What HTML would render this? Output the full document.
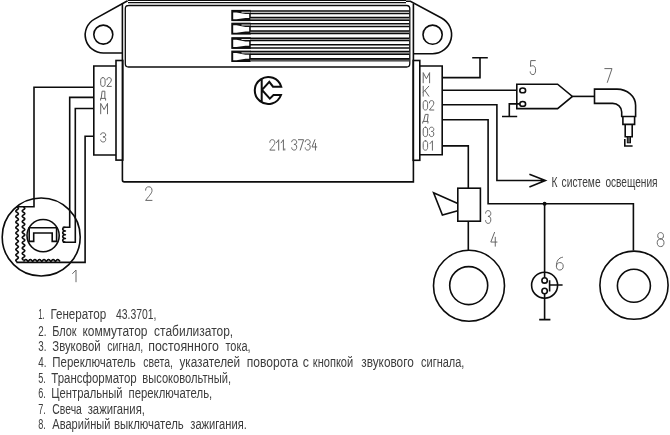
<!DOCTYPE html>
<html lang="ru"><head><meta charset="utf-8"><title>Схема 211.3734</title>
<style>
html,body{margin:0;padding:0;background:#fff;}
body{width:670px;height:435px;overflow:hidden;font-family:"Liberation Sans",sans-serif;}
svg{display:block;}
</style></head><body>
<svg width="670" height="435" viewBox="0 0 670 435">
<defs><filter id="gs" x="0" y="0" width="100%" height="100%" filterUnits="userSpaceOnUse" color-interpolation-filters="sRGB"><feColorMatrix type="saturate" values="0"/><feGaussianBlur stdDeviation="0.35"/></filter><filter id="soft" x="0" y="0" width="670" height="435" filterUnits="userSpaceOnUse" color-interpolation-filters="sRGB"><feGaussianBlur stdDeviation="0.4"/></filter></defs>
<rect width="670" height="435" fill="#fff"/>
<g fill="none" stroke="#0c0c0c" stroke-width="1.6" stroke-linejoin="miter" stroke-linecap="butt" filter="url(#soft)">
<path d="M122.4,3.4 L122.4,180 Q122.4,181.9 124.3,181.9 L413.4,181.9 L413.4,3.4"/>
<path d="M128,0.3 L406,0.3 M128,2.7 L406,2.7" stroke-width="1.3"/>
<path d="M128.4,5.5 L406.6,5.5 Q409.8,5.5 409.8,8.7 L409.8,63.8 Q409.8,67 406.6,67 L128.5,67 Q125.3,67 125.3,63.8 L125.3,8.7 Q125.3,5.5 128.5,5.5" stroke-width="1.3"/>
<rect x="231.9" y="10.50" width="18.2" height="10.00" fill="#111" stroke-width="1.2"/>
<path d="M233.2,12.40 L236.5,12.40 L245.5,14.10 L249.2,14.10 L249.2,17.90 L245.5,17.90 L236.5,19.30 L233.2,19.30 Z" fill="#fff" stroke="none"/>
<rect x="241.5" y="11.75" width="9" height="0.9" fill="#fff" stroke="none"/>
<rect x="231.9" y="23.30" width="18.2" height="10.70" fill="#111" stroke-width="1.2"/>
<path d="M233.2,25.20 L236.5,25.20 L245.5,26.90 L249.2,26.90 L249.2,31.40 L245.5,31.40 L236.5,32.80 L233.2,32.80 Z" fill="#fff" stroke="none"/>
<rect x="241.5" y="24.55" width="9" height="0.9" fill="#fff" stroke="none"/>
<rect x="231.9" y="37.80" width="18.2" height="10.50" fill="#111" stroke-width="1.2"/>
<path d="M233.2,39.70 L236.5,39.70 L245.5,41.40 L249.2,41.40 L249.2,45.70 L245.5,45.70 L236.5,47.10 L233.2,47.10 Z" fill="#fff" stroke="none"/>
<rect x="241.5" y="39.05" width="9" height="0.9" fill="#fff" stroke="none"/>
<rect x="231.9" y="51.20" width="18.2" height="10.20" fill="#111" stroke-width="1.2"/>
<path d="M233.2,53.10 L236.5,53.10 L245.5,54.80 L249.2,54.80 L249.2,58.80 L245.5,58.80 L236.5,60.20 L233.2,60.20 Z" fill="#fff" stroke="none"/>
<rect x="241.5" y="52.45" width="9" height="0.9" fill="#fff" stroke="none"/>
<rect x="250.5" y="17.40" width="158.8" height="2.80" fill="#bbb" stroke="none"/>
<rect x="250.5" y="30.90" width="158.8" height="2.70" fill="#bbb" stroke="none"/>
<rect x="250.5" y="38.20" width="158.8" height="2.20" fill="#bbb" stroke="none"/>
<rect x="250.5" y="51.60" width="158.8" height="2.60" fill="#bbb" stroke="none"/>
<rect x="250.5" y="58.7" width="158.8" height="2.9" fill="#555" stroke="none"/>
<path d="M250,10.90 L409.4,10.90" stroke-width="1.5"/>
<path d="M250,13.45 L409.4,13.45" stroke-width="1.5"/>
<path d="M250,17.40 L409.4,17.40" stroke-width="1.5"/>
<path d="M250,20.20 L409.4,20.20" stroke-width="1.5"/>
<path d="M250,23.80 L409.4,23.80" stroke-width="1.5"/>
<path d="M250,26.60 L409.4,26.60" stroke-width="1.5"/>
<path d="M250,30.90 L409.4,30.90" stroke-width="1.5"/>
<path d="M250,33.60 L409.4,33.60" stroke-width="1.5"/>
<path d="M250,38.20 L409.4,38.20" stroke-width="1.5"/>
<path d="M250,40.40 L409.4,40.40" stroke-width="1.5"/>
<path d="M250,44.80 L409.4,44.80" stroke-width="1.5"/>
<path d="M250,47.90 L409.4,47.90" stroke-width="1.5"/>
<path d="M250,51.60 L409.4,51.60" stroke-width="1.5"/>
<path d="M250,54.20 L409.4,54.20" stroke-width="1.5"/>
<path d="M250,58.70 L409.4,58.70" stroke-width="1.5"/>
<path d="M122.4,53.00 L103.30,53.00 A18.10,18.10 0 0 1 94.50,19.08 L127.6,0.7"/>
<circle cx="103.30" cy="34.60" r="9.5"/>
<path d="M413.4,53.70 L432.60,53.70 A19.00,19.00 0 0 0 441.51,17.92 L410.4,1.2 L406,1.2"/>
<circle cx="432.60" cy="34.70" r="9.6"/>
<rect x="116" y="60.5" width="6.8" height="99.6"/>
<path d="M116,66 L93.8,66 L93.8,155 L116,155"/>
<rect x="413.2" y="60.5" width="6.6" height="99.8"/>
<path d="M419.8,66 L442.2,66 L442.2,154.8 L419.8,154.8"/>
<path d="M93.8,87.2 L34.0,87.2 L34.0,206.8 L16.4,206.8"/>
<path d="M93.8,97.4 L69.7,97.4 L69.7,227.2 L62.8,227.2"/>
<path d="M93.8,108.5 L75.3,108.5 L75.3,242.2 L62.8,242.2"/>
<path d="M93.8,136.3 L85.1,136.3 L85.1,262.4 L16.4,262.4"/>
<circle cx="41.2" cy="237" r="39"/>
<circle cx="43.1" cy="235.6" r="16.1"/>
<path d="M29.2,241.4 L29.2,227.8 L56.6,227.8 L56.6,241.4 L52.2,241.4 L52.2,233 L33.7,233 L33.7,241.4 Z"/>
<path d="M17.10,207.00 L18.02,207.69 L18.40,208.37 L18.02,209.06 L17.10,209.74 L16.18,210.43 L15.80,211.11 L16.18,211.79 L17.10,212.48 L18.02,213.16 L18.40,213.85 L18.02,214.53 L17.10,215.22 L16.18,215.91 L15.80,216.59 L16.18,217.28 L17.10,217.96 L18.02,218.65 L18.40,219.33 L18.02,220.02 L17.10,220.70 L16.18,221.38 L15.80,222.07 L16.18,222.75 L17.10,223.44 L18.02,224.12 L18.40,224.81 L18.02,225.50 L17.10,226.18 L16.18,226.87 L15.80,227.55 L16.18,228.24 L17.10,228.92 L18.02,229.61 L18.40,230.29 L18.02,230.97 L17.10,231.66 L16.18,232.34 L15.80,233.03 L16.18,233.72 L17.10,234.40 L18.02,235.09 L18.40,235.77 L18.02,236.46 L17.10,237.14 L16.18,237.83 L15.80,238.51 L16.18,239.19 L17.10,239.88 L18.02,240.56 L18.40,241.25 L18.02,241.94 L17.10,242.62 L16.18,243.31 L15.80,243.99 L16.18,244.68 L17.10,245.36 L18.02,246.05 L18.40,246.73 L18.02,247.42 L17.10,248.10 L16.18,248.78 L15.80,249.47 L16.18,250.16 L17.10,250.84 L18.02,251.53 L18.40,252.21 L18.02,252.90 L17.10,253.58 L16.18,254.27 L15.80,254.95 L16.18,255.63 L17.10,256.32 L18.02,257.00 L18.40,257.69 L18.02,258.38 L17.10,259.06 L16.18,259.75 L15.80,260.43 L16.18,261.12 L17.10,261.80" stroke-width="1.6" stroke-linejoin="round"/>
<path d="M23.50,207.00 L24.42,207.66 L24.80,208.32 L24.42,208.99 L23.50,209.65 L22.58,210.31 L22.20,210.97 L22.58,211.64 L23.50,212.30 L24.42,212.96 L24.80,213.62 L24.42,214.29 L23.50,214.95 L22.58,215.61 L22.20,216.28 L22.58,216.94 L23.50,217.60 L24.42,218.26 L24.80,218.93 L24.42,219.59 L23.50,220.25 L22.58,220.91 L22.20,221.57 L22.58,222.24 L23.50,222.90 L24.42,223.56 L24.80,224.22 L24.42,224.89 L23.50,225.55 L22.58,226.21 L22.20,226.88 L22.58,227.54 L23.50,228.20 L24.42,228.86 L24.80,229.53 L24.42,230.19 L23.50,230.85 L22.58,231.51 L22.20,232.18 L22.58,232.84 L23.50,233.50 L24.42,234.16 L24.80,234.82 L24.42,235.49 L23.50,236.15 L22.58,236.81 L22.20,237.47 L22.58,238.14 L23.50,238.80 L24.42,239.46 L24.80,240.12 L24.42,240.79 L23.50,241.45 L22.58,242.11 L22.20,242.78 L22.58,243.44 L23.50,244.10 L24.42,244.76 L24.80,245.43 L24.42,246.09 L23.50,246.75 L22.58,247.41 L22.20,248.07 L22.58,248.74 L23.50,249.40 L24.42,250.06 L24.80,250.72 L24.42,251.39 L23.50,252.05 L22.58,252.71 L22.20,253.38 L22.58,254.04 L23.50,254.70 L24.42,255.36 L24.80,256.02 L24.42,256.69 L23.50,257.35 L22.58,258.01 L22.20,258.68 L22.58,259.34 L23.50,260.00" stroke-width="1.6" stroke-linejoin="round"/>
<path d="M23.50,261.60 L24.07,260.83 L24.64,260.19 L25.21,259.75 L25.78,259.60 L26.35,259.75 L26.92,260.19 L27.49,260.83 L28.06,261.60 L28.63,260.83 L29.20,260.19 L29.77,259.75 L30.34,259.60 L30.91,259.75 L31.48,260.19 L32.05,260.83 L32.62,261.60 L33.20,260.83 L33.77,260.19 L34.34,259.75 L34.91,259.60 L35.48,259.75 L36.05,260.19 L36.62,260.83 L37.19,261.60 L37.76,260.83 L38.33,260.19 L38.90,259.75 L39.47,259.60 L40.04,259.75 L40.61,260.19 L41.18,260.83 L41.75,261.60 L42.32,260.83 L42.89,260.19 L43.46,259.75 L44.03,259.60 L44.60,259.75 L45.17,260.19 L45.74,260.83 L46.31,261.60 L46.88,260.83 L47.45,260.19 L48.02,259.75 L48.59,259.60 L49.16,259.75 L49.73,260.19 L50.30,260.83 L50.88,261.60 L51.45,260.83 L52.02,260.19 L52.59,259.75 L53.16,259.60 L53.73,259.75 L54.30,260.19 L54.87,260.83 L55.44,261.60 L56.01,260.83 L56.58,260.19 L57.15,259.75 L57.72,259.60 L58.29,259.75 L58.86,260.19 L59.43,260.83 L60.00,261.60" stroke-width="1.6" stroke-linejoin="round"/>
<path d="M65.40,227.20 C61.80,227.57 61.80,230.57 65.40,230.95 C61.80,231.32 61.80,234.32 65.40,234.70 C61.80,235.07 61.80,238.07 65.40,238.45 C61.80,238.82 61.80,241.82 65.40,242.20" stroke-width="1.6" stroke-linejoin="round"/>
<path d="M442.2,77.6 L480,77.6 L480,57.8 M472.2,57.8 L487.8,57.8"/>
<path d="M442.2,90.2 L516.8,90.2"/>
<path d="M442.2,104.7 L496.9,104.7 L496.9,180.5 L545,180.5 M529.4,174.2 L545.4,180.5 L529.4,187"/>
<path d="M442.2,119.8 L488.1,119.8 L488.1,203.8 L633.4,203.8 L633.4,250.6"/>
<path d="M442.2,145.9 L468.3,145.9 L468.3,188.2 M468.3,221.2 L468.3,250.4"/>
<path d="M516.8,84.2 L557.6,84.2 L572.4,96.4 L557.6,108.6 L516.8,108.6 Z"/>
<ellipse cx="522.7" cy="90.4" rx="2.9" ry="2.4"/>
<ellipse cx="522.7" cy="103.9" rx="2.9" ry="2.4"/>
<path d="M519.8,103.9 L509.3,103.9 L509.3,116.5 M502,116.5 L517.2,116.5"/>
<path d="M572.4,96.4 L594.2,96.4"/>
<path d="M594.5,89.1 L617,89.1 A18.6,16.2 0 0 1 635.6,105.3 L635.6,116.5 L621.7,116.5 L621.7,112 A9,8.6 0 0 0 612.7,103.4 L594.5,103.4 Z"/>
<path d="M622.9,116.5 L622.9,124.4 L634.6,124.4 L634.6,116.5"/>
<path d="M625.2,124.4 L625.2,136.8 L632.2,136.8 L632.2,124.4"/>
<rect x="627.3" y="136.8" width="3.2" height="6" fill="#555" stroke-width="1"/>
<path d="M624.8,139 L624.8,146 L632.6,146"/>
<rect x="457.8" y="188.2" width="22.6" height="33"/>
<path d="M457.8,203.5 L433.6,192.8 L442.4,215 L457.8,210.8"/>
<circle cx="469.0" cy="285.8" r="35.5"/>
<circle cx="468.7" cy="285.6" r="19"/>
<circle cx="634.0" cy="285.2" r="34.1"/>
<circle cx="633.9" cy="285.8" r="16.5"/>
<path d="M544.6,203.8 L544.6,277.6 M544.6,293.8 L544.6,319.6 M539.2,319.6 L550.4,319.6"/>
<circle cx="544.6" cy="203.8" r="1.2" fill="#111"/>
<circle cx="544.6" cy="285.2" r="13"/>
<circle cx="544.6" cy="280.4" r="2.7"/>
<circle cx="544.6" cy="291" r="2.7"/>
<path d="M549.6,280.2 L549.6,291.4 M549.6,285 L562.6,285"/>
<path d="M281.25,86.6 L273,86.6 L269.3,81.7 L262,89.8 L269.8,98.5 L273.5,94.9 L281.0,94.9 A13.5,13.5 0 1 1 281.25,86.6 Z M261.7,78.7 L261.7,102.1" stroke-width="2" transform="translate(0,0.1)"/>
</g>
<g fill="none" stroke="#666" stroke-width="1.0" stroke-linecap="round" stroke-linejoin="round" filter="url(#soft)">
<path d="M 102.90,77.60 C 101.36,77.60 100.70,78.66 100.70,80.24 L 100.70,83.76 C 100.70,85.34 101.36,86.40 102.90,86.40 C 104.44,86.40 105.10,85.34 105.10,83.76 L 105.10,80.24 C 105.10,78.66 104.44,77.60 102.90,77.60 Z M 106.90,79.80 C 106.90,78.13 107.78,77.60 109.10,77.60 C 110.42,77.60 111.30,78.30 111.30,79.98 C 111.30,81.56 110.20,82.44 106.90,86.40 L 111.30,86.40"/>
<path d="M 100.60,100.16 L 100.60,98.40 L 105.60,98.40 L 105.60,100.16 M 101.20,98.40 L 102.10,91.20 L 104.85,91.20 L 104.85,98.40"/>
<path d="M 100.70,113.80 L 100.70,103.40 L 104.10,109.64 L 107.50,103.40 L 107.50,113.80"/>
<path d="M 100.70,134.64 C 100.70,133.35 101.70,132.80 103.20,132.80 C 104.70,132.80 105.70,133.54 105.70,135.01 C 105.70,136.30 104.70,136.94 102.95,136.94 C 104.70,136.94 105.70,137.58 105.70,139.42 C 105.70,141.08 104.70,142.00 103.20,142.00 C 101.70,142.00 100.70,141.26 100.70,139.98"/>
<path d="M 423.20,82.80 L 423.20,72.60 L 426.40,78.72 L 429.60,72.60 L 429.60,82.80"/>
<path d="M 423.20,86.20 L 423.20,96.20 M 428.80,86.20 L 423.20,92.20 M 424.88,90.40 L 428.80,96.20"/>
<path d="M 425.40,100.60 C 423.86,100.60 423.20,101.73 423.20,103.42 L 423.20,107.18 C 423.20,108.87 423.86,110.00 425.40,110.00 C 426.94,110.00 427.60,108.87 427.60,107.18 L 427.60,103.42 C 427.60,101.73 426.94,100.60 425.40,100.60 Z M 429.40,102.95 C 429.40,101.16 430.28,100.60 431.60,100.60 C 432.92,100.60 433.80,101.35 433.80,103.14 C 433.80,104.83 432.70,105.77 429.40,110.00 L 433.80,110.00"/>
<path d="M 422.69,123.14 L 422.89,121.42 L 428.09,121.42 L 427.89,123.14 M 423.52,121.42 L 425.30,114.40 L 428.16,114.40 L 427.31,121.42"/>
<path d="M 425.40,127.20 C 423.86,127.20 423.20,128.33 423.20,130.02 L 423.20,133.78 C 423.20,135.47 423.86,136.60 425.40,136.60 C 426.94,136.60 427.60,135.47 427.60,133.78 L 427.60,130.02 C 427.60,128.33 426.94,127.20 425.40,127.20 Z M 429.40,129.08 C 429.40,127.76 430.28,127.20 431.60,127.20 C 432.92,127.20 433.80,127.95 433.80,129.46 C 433.80,130.77 432.92,131.43 431.38,131.43 C 432.92,131.43 433.80,132.09 433.80,133.97 C 433.80,135.66 432.92,136.60 431.60,136.60 C 430.28,136.60 429.40,135.85 429.40,134.53"/>
<path d="M 425.40,140.80 C 423.86,140.80 423.20,141.93 423.20,143.62 L 423.20,147.38 C 423.20,149.07 423.86,150.20 425.40,150.20 C 426.94,150.20 427.60,149.07 427.60,147.38 L 427.60,143.62 C 427.60,141.93 426.94,140.80 425.40,140.80 Z M 430.00,143.62 L 432.40,140.80 L 432.40,150.20"/>
<path d="M 72.60,273.54 L 76.00,270.00 L 76.00,281.80"/>
<path d="M 145.60,190.20 C 145.60,187.62 146.88,186.80 148.80,186.80 C 150.72,186.80 152.00,187.89 152.00,190.47 C 152.00,192.92 150.40,194.28 145.60,200.40 L 152.00,200.40"/>
<path d="M 485.60,213.16 C 485.60,211.37 486.64,210.60 488.20,210.60 C 489.76,210.60 490.80,211.62 490.80,213.67 C 490.80,215.46 489.76,216.36 487.94,216.36 C 489.76,216.36 490.80,217.26 490.80,219.82 C 490.80,222.12 489.76,223.40 488.20,223.40 C 486.64,223.40 485.60,222.38 485.60,220.58"/>
<path d="M 494.52,232.40 L 490.80,242.06 L 497.00,242.06 M 495.26,237.23 L 495.26,246.20"/>
<path d="M 535.33,60.60 L 530.74,60.60 L 530.47,66.48 C 531.82,65.36 535.60,64.80 535.60,70.12 C 535.60,73.20 534.52,74.60 532.90,74.60 C 531.28,74.60 530.20,73.48 530.20,71.80"/>
<path d="M 562.52,257.20 C 558.44,257.84 556.40,261.04 556.40,266.16 C 556.40,268.72 557.76,270.00 559.80,270.00 C 561.84,270.00 563.20,268.72 563.20,266.16 C 563.20,263.60 561.84,262.58 559.80,262.58 C 557.76,262.58 556.40,264.24 556.40,266.16"/>
<path d="M 604.80,68.60 L 612.00,68.60 L 607.32,82.40"/>
<path d="M 660.60,238.90 C 658.56,238.90 657.74,237.64 657.74,235.68 C 657.74,233.72 658.90,232.60 660.60,232.60 C 662.30,232.60 663.46,233.72 663.46,235.68 C 663.46,237.64 662.64,238.90 660.60,238.90 C 658.56,238.90 657.20,240.44 657.20,242.68 C 657.20,245.20 658.56,246.60 660.60,246.60 C 662.64,246.60 664.00,245.20 664.00,242.68 C 664.00,240.44 662.64,238.90 660.60,238.90"/>
<path d="M 269.80,142.30 C 269.80,140.32 270.80,139.70 272.30,139.70 C 273.80,139.70 274.80,140.53 274.80,142.51 C 274.80,144.38 273.55,145.42 269.80,150.10 L 274.80,150.10 M 276.40,142.82 L 278.70,139.70 L 278.70,150.10 M 281.10,142.82 L 283.40,139.70 L 283.40,150.10 M 284.80,148.85 L 284.80,150.10 M 291.70,141.78 C 291.70,140.32 292.70,139.70 294.20,139.70 C 295.70,139.70 296.70,140.53 296.70,142.20 C 296.70,143.65 295.70,144.38 293.95,144.38 C 295.70,144.38 296.70,145.11 296.70,147.19 C 296.70,149.06 295.70,150.10 294.20,150.10 C 292.70,150.10 291.70,149.27 291.70,147.81 M 298.40,139.70 L 303.60,139.70 L 300.22,150.10 M 305.20,141.78 C 305.20,140.32 306.20,139.70 307.70,139.70 C 309.20,139.70 310.20,140.53 310.20,142.20 C 310.20,143.65 309.20,144.38 307.45,144.38 C 309.20,144.38 310.20,145.11 310.20,147.19 C 310.20,149.06 309.20,150.10 307.70,150.10 C 306.20,150.10 305.20,149.27 305.20,147.81 M 314.88,139.70 L 312.00,146.98 L 316.80,146.98 M 315.46,143.34 L 315.46,150.10"/>
</g>
<g font-family="'Liberation Sans', sans-serif" font-size="15.5" fill="#3c3c3c" stroke="none" filter="url(#gs)">
<text x="38.2" y="319.4" textLength="6.6" lengthAdjust="spacingAndGlyphs">1.</text>
<text x="50.4" y="319.4" textLength="55.8" lengthAdjust="spacingAndGlyphs">Генератор</text>
<text x="116.0" y="319.4" textLength="40.4" lengthAdjust="spacingAndGlyphs">43.3701,</text>
<text x="38.2" y="335.9" textLength="8.2" lengthAdjust="spacingAndGlyphs">2.</text>
<text x="52.3" y="335.9" textLength="24.3" lengthAdjust="spacingAndGlyphs">Блок</text>
<text x="82.5" y="335.9" textLength="65.0" lengthAdjust="spacingAndGlyphs">коммутатор</text>
<text x="154.1" y="335.9" textLength="79.1" lengthAdjust="spacingAndGlyphs">стабилизатор,</text>
<text x="38.2" y="351.4" textLength="8.2" lengthAdjust="spacingAndGlyphs">3.</text>
<text x="52.3" y="351.4" textLength="48.3" lengthAdjust="spacingAndGlyphs">Звуковой</text>
<text x="107.2" y="351.4" textLength="36.1" lengthAdjust="spacingAndGlyphs">сигнал,</text>
<text x="148.2" y="351.4" textLength="70.6" lengthAdjust="spacingAndGlyphs">постоянного</text>
<text x="225.4" y="351.4" textLength="25.2" lengthAdjust="spacingAndGlyphs">тока,</text>
<text x="38.2" y="367.1" textLength="8.2" lengthAdjust="spacingAndGlyphs">4.</text>
<text x="52.3" y="367.1" textLength="83.4" lengthAdjust="spacingAndGlyphs">Переключатель</text>
<text x="143.3" y="367.1" textLength="29.6" lengthAdjust="spacingAndGlyphs">света,</text>
<text x="179.4" y="367.1" textLength="60.8" lengthAdjust="spacingAndGlyphs">указателей</text>
<text x="246.8" y="367.1" textLength="51.4" lengthAdjust="spacingAndGlyphs">поворота</text>
<text x="302.8" y="367.1" textLength="6.2" lengthAdjust="spacingAndGlyphs">с</text>
<text x="312.8" y="367.1" textLength="40.4" lengthAdjust="spacingAndGlyphs">кнопкой</text>
<text x="361.3" y="367.1" textLength="52.5" lengthAdjust="spacingAndGlyphs">звукового</text>
<text x="421.0" y="367.1" textLength="43.4" lengthAdjust="spacingAndGlyphs">сигнала,</text>
<text x="38.2" y="382.6" textLength="7.6" lengthAdjust="spacingAndGlyphs">5.</text>
<text x="51.3" y="382.6" textLength="85.4" lengthAdjust="spacingAndGlyphs">Трансформатор</text>
<text x="142.3" y="382.6" textLength="88.7" lengthAdjust="spacingAndGlyphs">высоковольтный,</text>
<text x="38.2" y="398.0" textLength="7.6" lengthAdjust="spacingAndGlyphs">6.</text>
<text x="51.3" y="398.0" textLength="71.3" lengthAdjust="spacingAndGlyphs">Центральный</text>
<text x="128.5" y="398.0" textLength="83.7" lengthAdjust="spacingAndGlyphs">переключатель,</text>
<text x="38.2" y="413.7" textLength="7.6" lengthAdjust="spacingAndGlyphs">7.</text>
<text x="52.3" y="413.7" textLength="29.6" lengthAdjust="spacingAndGlyphs">Свеча</text>
<text x="87.7" y="413.7" textLength="57.2" lengthAdjust="spacingAndGlyphs">зажигания,</text>
<text x="38.2" y="429.1" textLength="7.6" lengthAdjust="spacingAndGlyphs">8.</text>
<text x="52.3" y="429.1" textLength="58.1" lengthAdjust="spacingAndGlyphs">Аварийный</text>
<text x="113.9" y="429.1" textLength="69.8" lengthAdjust="spacingAndGlyphs">выключатель</text>
<text x="190.3" y="429.1" textLength="56.5" lengthAdjust="spacingAndGlyphs">зажигания.</text>
<text x="551.4" y="187.3" textLength="6.0" lengthAdjust="spacingAndGlyphs" font-size="15">К</text>
<text x="561.6" y="187.3" textLength="39.0" lengthAdjust="spacingAndGlyphs" font-size="15">системе</text>
<text x="605.4" y="187.3" textLength="52.2" lengthAdjust="spacingAndGlyphs" font-size="15">освещения</text>
</g>
</svg>
</body></html>
